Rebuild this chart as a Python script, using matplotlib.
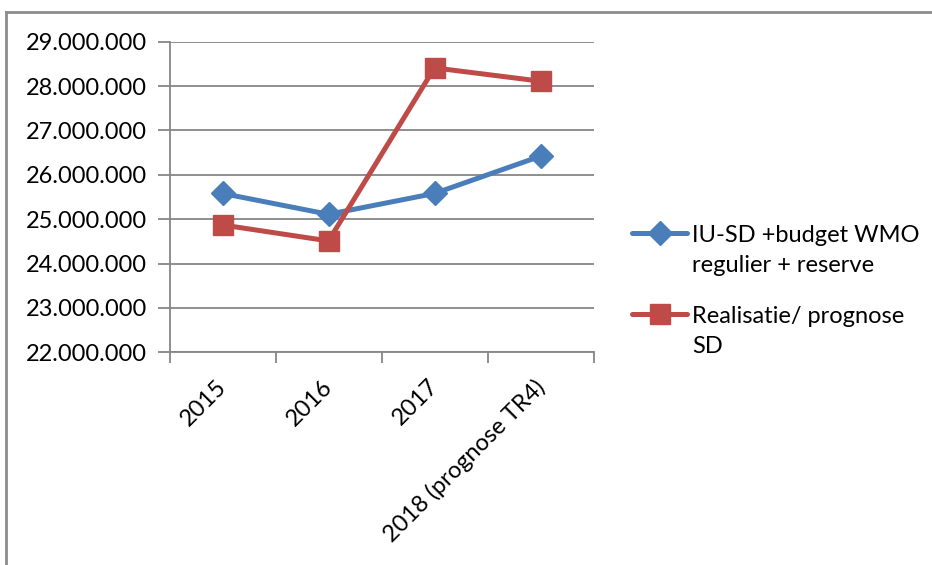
import matplotlib
matplotlib.use("Agg")
import matplotlib.pyplot as plt
from matplotlib.lines import Line2D
from matplotlib.ticker import FuncFormatter, MultipleLocator
from matplotlib.transforms import ScaledTranslation

categories = ["2015", "2016", "2017", "2018 (prognose TR4)"]
budget = [25580000, 25110000, 25580000, 26420000]
realisatie = [24870000, 24510000, 28410000, 28110000]
series_names = [["IU-SD +budget WMO", "regulier + reserve"], ["Realisatie/ prognose", "SD"]]

W, H = 932, 565
fig = plt.figure(figsize=(W / 100, H / 100), dpi=100)
plt.rcParams['font.family'] = ['Lato', 'DejaVu Sans']
FS = 17

left, right, top, bottom = 169.5, 593.5, 41.7, 352.3
ax = fig.add_axes([left / W, 1 - bottom / H, (right - left) / W, (bottom - top) / H])

grid_c = "#868686"
blue = "#4A7EBB"
red = "#BE4B48"

x = list(range(len(categories)))
l1, = ax.plot(x, budget, color=blue, lw=3.6, marker="D", ms=12, mec=blue, mfc=blue,
              solid_capstyle="round", zorder=3)
l2, = ax.plot(x, realisatie, color=red, lw=3.6, marker="s", ms=14, mec=red, mfc=red,
              solid_capstyle="round", zorder=3)

ax.set_xlim(-0.5, len(categories) - 0.5)
ax.set_ylim(22000000, 29000000)
ax.yaxis.set_major_locator(MultipleLocator(1000000))
ax.yaxis.set_major_formatter(FuncFormatter(lambda v, p: f"{int(round(v)):,}".replace(",", ".")))
ax.grid(axis="y", color=grid_c, lw=1.3)
ax.set_axisbelow(True)

for s in ["top", "right"]:
    ax.spines[s].set_visible(False)
for s in ["left", "bottom"]:
    ax.spines[s].set_color(grid_c)
    ax.spines[s].set_linewidth(1.3)

ax.set_xticks([i - 0.5 for i in range(len(categories) + 1)])
ax.set_xticklabels([])
ax.set_xticks(x, minor=True)
ax.set_xticklabels(categories, minor=True, rotation=45, ha="right",
                   rotation_mode="anchor", fontsize=FS, color="black")
ax.tick_params(axis="x", which="minor", length=0, pad=14)
ax.tick_params(axis="x", which="major", length=8, color=grid_c, width=1.3)
ax.tick_params(axis="y", length=9, color=grid_c, width=1.3, labelsize=FS, pad=7)

offset = ScaledTranslation(-7 / 100, -4 / 100, fig.dpi_scale_trans)
for lab in ax.get_xticklabels(minor=True):
    lab.set_transform(lab.get_transform() + offset)

blank = Line2D([], [], color="none")
common = dict(loc="center left", bbox_transform=fig.transFigure, frameon=False,
              fontsize=FS, handlelength=2.35, handletextpad=0.2, labelspacing=0.42,
              borderpad=0, borderaxespad=0)
leg1 = ax.legend([l1, blank], series_names[0], bbox_to_anchor=(632 / W, 1 - 250.5 / H), **common)
ax.add_artist(leg1)
leg2 = ax.legend([l2, blank], series_names[1], bbox_to_anchor=(632 / W, 1 - 331.5 / H), **common)

fig.add_artist(Line2D([5.5 / W, 5.5 / W], [0, 1 - 11.5 / H], color="#8c8c8c", lw=2,
                      transform=fig.transFigure))
fig.add_artist(Line2D([5.5 / W, 1], [1 - 11.5 / H, 1 - 11.5 / H], color="#8c8c8c", lw=2,
                      transform=fig.transFigure))

fig.savefig("out.png", dpi=100)
